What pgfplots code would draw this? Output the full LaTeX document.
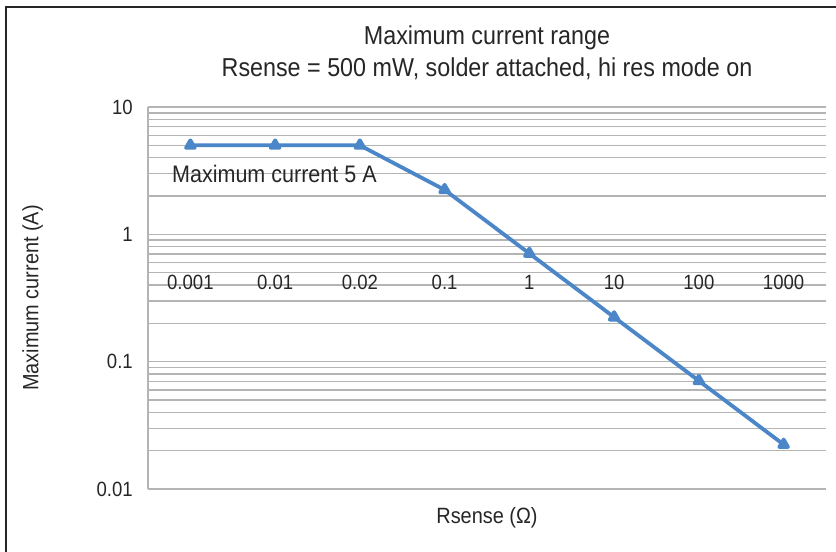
\documentclass[border=0pt]{standalone}
\usepackage{pgfplots}
\pgfplotsset{compat=1.18}
\usepackage{fontspec}
\setmainfont[FakeStretch=0.9]{Liberation Sans}

\definecolor{lineblue}{RGB}{74,134,200}
\definecolor{gridgray}{RGB}{180,180,180}
\definecolor{txt}{RGB}{38,38,38}

\begin{document}
\begin{tikzpicture}
\begin{axis}[
    name=ax, at={(0bp,0bp)}, anchor=south west,
    scale only axis, width=678bp, height=382bp,
    ymode=log, ymin=0.01, ymax=10,
    xmin=-0.5, xmax=7.5,
    xtick={0,...,7},
    xticklabels={0.001,0.01,0.02,0.1,1,10,100,1000},
    ytick={0.01,0.1,1,10},
    yticklabels={0.01,0.1,1,10},
    minor ytick={0.02,0.03,0.04,0.05,0.06,0.07,0.08,0.09,
                 0.2,0.3,0.4,0.5,0.6,0.7,0.8,0.9,
                 2,3,4,5,6,7,8,9},
    ymajorgrids, yminorgrids,
    major grid style={gridgray, line width=1.4bp},
    minor grid style={gridgray, line width=1.4bp},
    axis lines*=left,
    x axis line style={draw=none},
    y axis line style={gridgray, line width=1.4bp},
    major tick length=0pt, minor tick length=0pt,
    tick style={draw=none},
    /pgf/number format/assume math mode=true,
    xticklabel style={anchor=center, yshift=207bp, text=txt,
        font=\fontsize{20.7}{21}\selectfont},
    yticklabel style={anchor=east, inner sep=0pt, xshift=-15bp, text=txt,
        font=\fontsize{20.7}{21}\selectfont},
    xlabel={Rsense (Ω)},
    xlabel style={at={(axis description cs:0.5,0)}, anchor=center, yshift=-29bp,
        text=txt, font=\fontsize{22.2}{23}\selectfont},
    ylabel={Maximum current (A)},
    ylabel style={at={(axis description cs:-0.17,0.5)}, anchor=center,
        text=txt, font=\fontsize{22.2}{23}\selectfont},
    title={Maximum current range\\Rsense = 500 mW, solder attached, hi res mode on},
    title style={at={(axis description cs:0.5,1)}, anchor=center, yshift=48bp,
        align=center, text=txt, font=\fontsize{26}{32}\selectfont},
]
\addplot[lineblue, line width=3.8bp, line join=round, mark=triangle*,
    mark size=5bp, mark options={solid, fill=lineblue}] coordinates {
    (0,5) (1,5) (2,5) (3,2.236) (4,0.707) (5,0.2236) (6,0.0707) (7,0.02236)
};
\node[anchor=west, inner sep=0pt, text=txt, font=\fontsize{24}{25}\selectfont]
    at (axis cs:-0.217,3.0) {Maximum current 5 A};
\end{axis}
\draw[line width=1.5bp, black!85] (-142bp,-63bp) -- (-142bp,482bp) -- (688bp,482bp);
\pgfresetboundingbox
\path[use as bounding box] (-148bp,-63bp) rectangle (688bp,489bp);
\end{tikzpicture}
\end{document}
